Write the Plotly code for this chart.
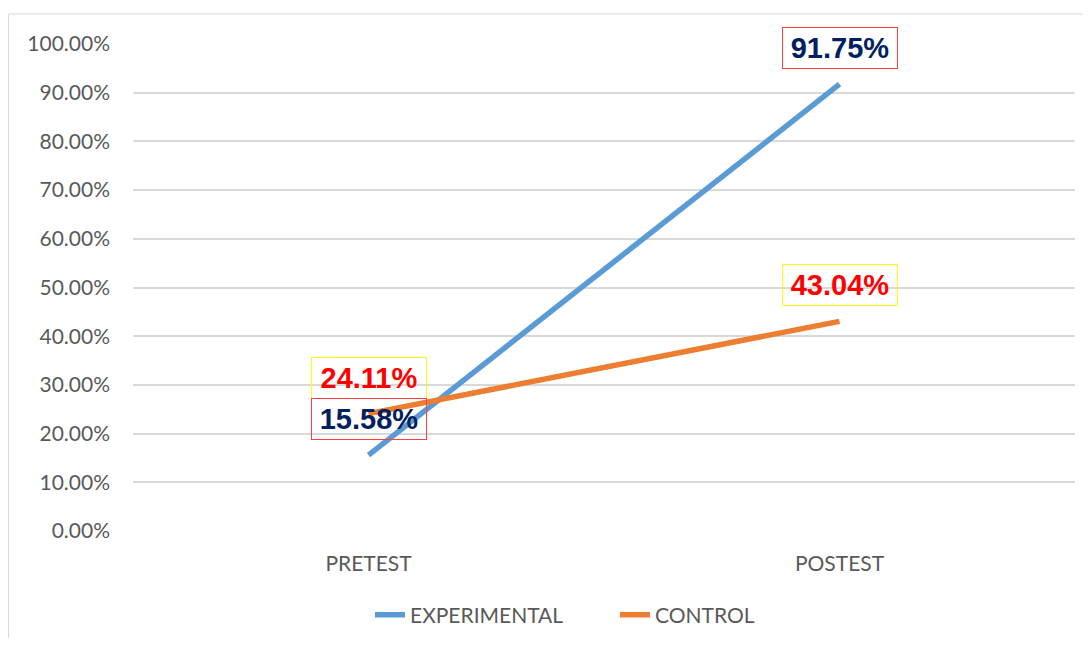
import plotly.graph_objects as go

categories = ["PRETEST", "POSTEST"]
experimental = [0.1558, 0.9175]
control = [0.2411, 0.4304]
series_names = ["EXPERIMENTAL", "CONTROL"]
y_ticks = [i / 10 for i in range(11)]

# page body has an 8px margin; figure sized to fit the 1091x646 window
OFF = 8
W, H = 1091 - 2 * OFF, 646 - 2 * OFF
L, R, T, B = 133 - OFF, 8, 44 - OFF, 107

fig = go.Figure()
fig.add_trace(go.Scatter(x=categories, y=experimental, mode="lines", name=series_names[0],
                         line=dict(color="#5B9BD5", width=5.5)))
fig.add_trace(go.Scatter(x=categories, y=control, mode="lines", name=series_names[1],
                         line=dict(color="#ED7D31", width=5.5)))

def add_labels(vals, txt_color, border_color):
    for c, v in zip(categories, vals):
        fig.add_annotation(x=c, y=v, xref="x", yref="y", text=f"<b>{v*100:.2f}%</b>",
                           showarrow=False, yshift=36, width=112, height=38,
                           borderpad=1, borderwidth=1, bordercolor=border_color,
                           bgcolor="rgba(255,255,255,0)",
                           font=dict(family="Liberation Sans, Arial", size=29, color=txt_color))

add_labels(control, "#FF0000", "#FFFF00")
add_labels(experimental, "#002060", "#FF4040")

pw = W - L - R
ph = H - T - B
fig.add_shape(type="rect", xref="paper", yref="paper",
              x0=(0.5 - L) / pw, x1=(W + 20 - L) / pw,
              y0=-(H + 20 - T - ph) / ph, y1=(H - B - 6) / ph,
              line=dict(color="#D9D9D9", width=1), layer="below")

fig.update_layout(
    width=W, height=H,
    margin=dict(l=L, r=R, t=T, b=B, autoexpand=False),
    paper_bgcolor="white", plot_bgcolor="white",
    font=dict(family="Lato, Carlito, Calibri, sans-serif", size=21, color="#595959"),
    legend=dict(orientation="h", xref="container", yref="container",
                x=(615 - OFF) / W, xanchor="center",
                y=(H - (615 - OFF)) / H, yanchor="middle",
                font=dict(size=21, color="#595959"), entrywidth=200, entrywidthmode="pixels"),
    showlegend=True,
)
fig.update_xaxes(range=[-0.5, 1.5], showgrid=False, showline=False, ticks="",
                 ticklabelstandoff=18, tickfont=dict(size=21, color="#595959"))
fig.update_yaxes(range=[0, 1], tickvals=y_ticks, tickformat=".2%",
                 showgrid=True, gridcolor="#D9D9D9", gridwidth=1.5,
                 zeroline=False, showline=False, ticks="",
                 ticklabelstandoff=22, tickfont=dict(size=21, color="#595959"))

fig.write_html("out.html")
